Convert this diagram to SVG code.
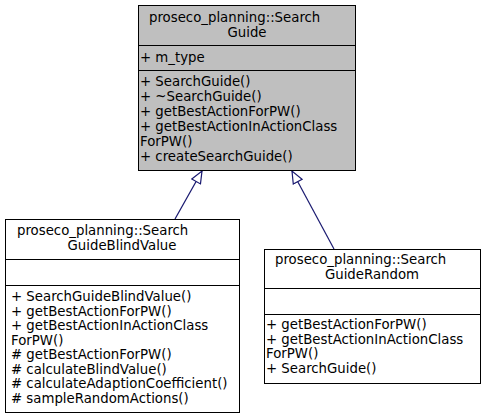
<svg xmlns="http://www.w3.org/2000/svg" width="485" height="419" viewBox="0 0 485 419">
<style>
text{font-family:"DejaVu Sans",sans-serif;font-size:13.3px;fill:#000}
.m{text-anchor:middle}
.box{stroke:#000;stroke-width:1}
.edge{stroke:#191970;stroke-width:1.2;fill:none}
</style>
<defs>
<marker id="tri" markerWidth="14" markerHeight="12" refX="13" refY="6" orient="auto" markerUnits="userSpaceOnUse">
<path d="M1,1 L13,6 L1,11 Z" fill="#fff" stroke="#191970" stroke-width="1.2"/>
</marker>
</defs>
<rect width="485" height="419" fill="#fff"/>
<g id="connectors">
<line class="edge" x1="175" y1="219" x2="202" y2="171" marker-end="url(#tri)"/>
<line class="edge" x1="334" y1="249" x2="292" y2="171" marker-end="url(#tri)"/>
</g>
<g id="node-SearchGuide">
<rect class="box" x="138.5" y="5.5" width="217" height="165" fill="#bfbfbf"/>
<line class="box" x1="138.5" y1="45.5" x2="355.5" y2="45.5"/>
<line class="box" x1="138.5" y1="70.5" x2="355.5" y2="70.5"/>
<text x="149" y="22">proseco_planning::Search</text>
<text class="m" x="247" y="37">Guide</text>
<text x="140" y="62">+ m_type</text>
<text x="140" y="86">+ SearchGuide()</text>
<text x="140" y="101">+ ~SearchGuide()</text>
<text x="140" y="116">+ getBestActionForPW()</text>
<text x="140" y="131">+ getBestActionInActionClass</text>
<text x="140" y="146">ForPW()</text>
<text x="140" y="161">+ createSearchGuide()</text>
</g>
<g id="node-SearchGuideBlindValue">
<rect class="box" x="5.5" y="219.5" width="234" height="193" fill="#fff"/>
<line class="box" x1="5.5" y1="259.5" x2="239.5" y2="259.5"/>
<line class="box" x1="5.5" y1="285.5" x2="239.5" y2="285.5"/>
<text x="17" y="235">proseco_planning::Search</text>
<text class="m" x="122" y="250">GuideBlindValue</text>
<text x="11" y="301">+ SearchGuideBlindValue()</text>
<text x="11" y="315.5">+ getBestActionForPW()</text>
<text x="11" y="330">+ getBestActionInActionClass</text>
<text x="11" y="344.5">ForPW()</text>
<text x="11" y="359"># getBestActionForPW()</text>
<text x="11" y="373.5"># calculateBlindValue()</text>
<text x="11" y="388"># calculateAdaptionCoefficient()</text>
<text x="11" y="402.5"># sampleRandomActions()</text>
</g>
<g id="node-SearchGuideRandom">
<rect class="box" x="264.5" y="249.5" width="216" height="134" fill="#fff"/>
<line class="box" x1="264.5" y1="288.5" x2="480.5" y2="288.5"/>
<line class="box" x1="264.5" y1="314.5" x2="480.5" y2="314.5"/>
<text x="275" y="264">proseco_planning::Search</text>
<text class="m" x="372" y="279">GuideRandom</text>
<text x="266" y="329">+ getBestActionForPW()</text>
<text x="266" y="343.5">+ getBestActionInActionClass</text>
<text x="266" y="358">ForPW()</text>
<text x="266" y="372.5">+ SearchGuide()</text>
</g>
</svg>
